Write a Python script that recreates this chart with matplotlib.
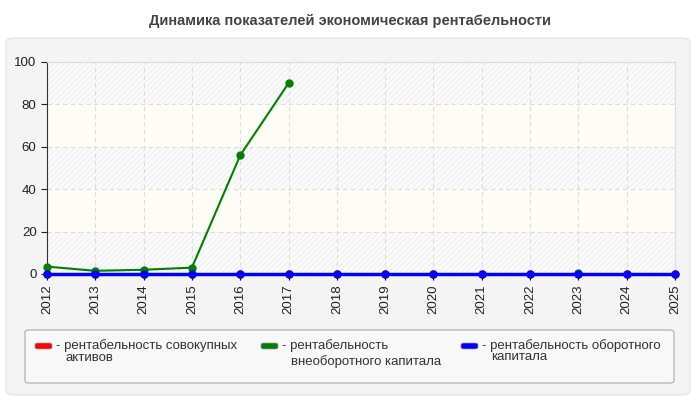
import matplotlib.pyplot as plt
from matplotlib.patches import FancyBboxPatch, Rectangle

nan = float('nan')
years = list(range(2012, 2026))
roa = [0] * 14
non_current = [3.5, 1.5, 2.0, 3.0, 56, 90, nan, nan, nan, nan, nan, 0.6, nan, nan]
current = [0] * 14

labels = ['- рентабельность совокупных',
          '- рентабельность',
          '- рентабельность оборотного']
labels2 = ['активов', 'внеоборотного капитала', 'капитала']
colors = ['#ff0000', '#008000', '#0000ff']

plt.rcParams['font.family'] = ['Liberation Sans', 'DejaVu Sans']

fig = plt.figure(figsize=(7, 4), dpi=100)
fig.patch.set_facecolor('white')

# outer panel
fig.patches.append(FancyBboxPatch((6 / 700, 5 / 400), 684 / 700, 357 / 400,
                                  boxstyle='round,pad=0,rounding_size=0.012',
                                  transform=fig.transFigure, facecolor='#f4f4f4',
                                  edgecolor='#e6e6e6', lw=1, zorder=0))
fig.text(0.5, 0.948, 'Динамика показателей экономическая рентабельности',
         ha='center', va='center', fontsize=10.5, fontweight='bold', color='#444444')

ax = fig.add_axes([47 / 700, 1 - 274 / 400, 628 / 700, 212 / 400])
ax.set_zorder(3)
ax.set_facecolor('#fbfbfb')
for lo in (20, 60):
    ax.add_patch(Rectangle((2011, lo), 20, 20, facecolor='#fdfdf5', edgecolor='none', zorder=0))
for lo in (0, 40, 80):
    ax.add_patch(Rectangle((2011, lo), 20, 20, facecolor='none', edgecolor='#f1f1f1',
                           hatch='//////', lw=0, zorder=0))

ax.plot(years, roa, color=colors[0], lw=2, marker='o', ms=5, zorder=3, clip_on=False)
ax.plot(years, non_current, color=colors[1], lw=1.5, marker='o', ms=5, zorder=4, clip_on=False)
ax.plot(years, current, color=colors[2], lw=2.5, marker='o', ms=5, zorder=5, clip_on=False)

ax.set_xlim(2012, 2025)
ax.set_ylim(0, 100)
ax.set_xticks(years)
ax.set_xticklabels([str(y) for y in years], rotation=90, fontsize=9.5, color='#222222')
ax.set_yticks([0, 20, 40, 60, 80, 100])
ax.tick_params(axis='y', labelsize=9.5, colors='#222222', length=4)
ax.tick_params(axis='x', length=4)
ax.grid(True, color='#dddddd', linestyle=(0, (4, 3)), lw=0.8)
ax.set_axisbelow(True)
for side in ('top', 'right'):
    ax.spines[side].set_color('#dddddd')
ax.spines['left'].set_color('#333333')
ax.spines['bottom'].set_color('#333333')

# legend box
fig.patches.append(FancyBboxPatch((25 / 700, 1 - 383 / 400), 649 / 700, 53 / 400,
                                  boxstyle='round,pad=0,rounding_size=0.006',
                                  transform=fig.transFigure, facecolor='#f8f8f8',
                                  edgecolor='#aaaaaa', lw=0.8, zorder=1))
xs = [35, 261, 461]
second_line_y = [358, 362, 357]
for x, lab, lab2, y2, c in zip(xs, labels, labels2, second_line_y, colors):
    fig.patches.append(FancyBboxPatch((x / 700, 1 - 349 / 400), 17 / 700, 6 / 400,
                                      boxstyle='round,pad=0,rounding_size=0.004',
                                      transform=fig.transFigure, facecolor=c,
                                      edgecolor='#999999', lw=0.5, zorder=2))
    fig.text((x + 21) / 700, 1 - 346 / 400, lab, ha='left', va='center', fontsize=9.5,
             color='#333333', zorder=3)
    fig.text((x + 30) / 700, 1 - y2 / 400, lab2, ha='left', va='center', fontsize=9.5,
             color='#333333', zorder=3)

fig.savefig('out.png', dpi=100)
